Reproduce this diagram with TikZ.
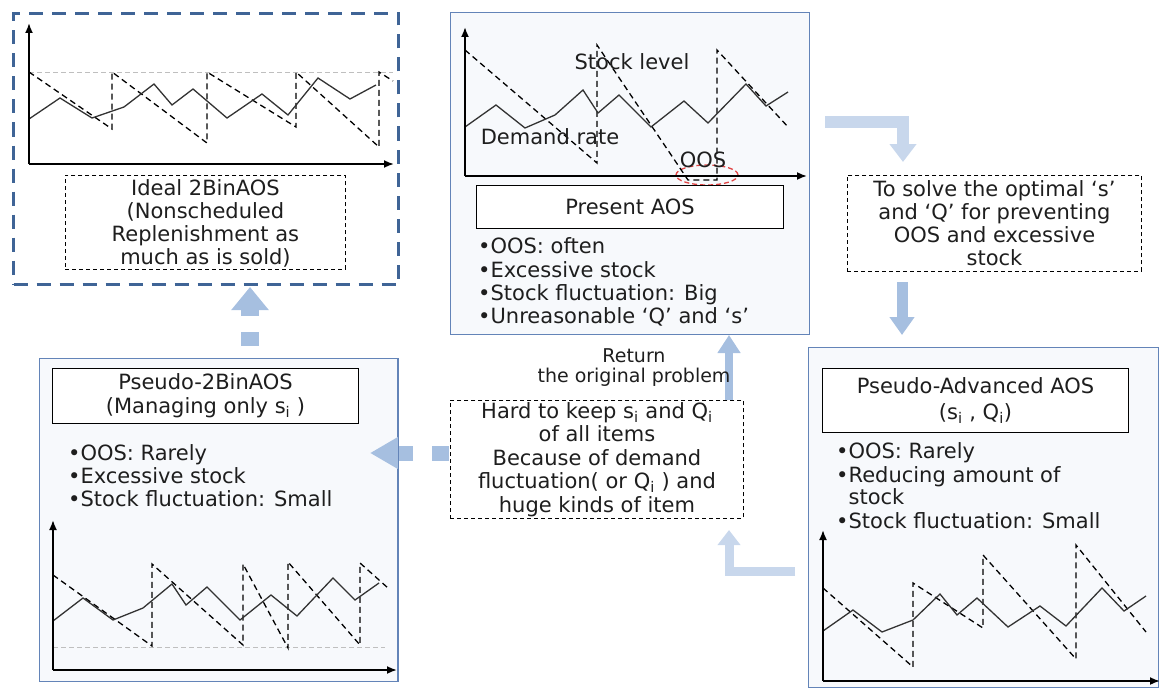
\documentclass[tikz,border=0pt]{standalone}
\usepackage{fontspec}
\setmainfont{DejaVu Sans}
\usetikzlibrary{arrows.meta,shapes.geometric}
\definecolor{pborder}{HTML}{6384B8}
\definecolor{pfill}{HTML}{F7F9FC}
\definecolor{idealb}{HTML}{3F6496}
\definecolor{arrlight}{HTML}{C8D7EC}
\definecolor{arrmid}{HTML}{A6BFE0}
\definecolor{txt}{HTML}{1E1E1E}
\definecolor{oosred}{HTML}{E04545}
\begin{document}
\begin{tikzpicture}[x=1pt,y=-1pt, line join=miter,
  font=\fontsize{21}{24}\selectfont,
  every node/.style={text=txt},
  panel/.style={draw=pborder, line width=1.3pt, fill=pfill, inner sep=0pt, anchor=north west},
  tbox/.style={draw=black, line width=0.9pt, dash pattern=on 4pt off 3pt, inner sep=0pt, anchor=north west, align=center},
  sbox/.style={draw=black, line width=1pt, fill=white, inner sep=0pt, anchor=north west, align=center},
  bul/.style={anchor=base west, inner sep=0pt},
  lbl/.style={inner sep=0pt},
  axis/.style={line width=1.8pt, -{Latex[length=10pt,width=8pt]}},
  stock/.style={line width=1.3pt, dash pattern=on 6pt off 4pt},
  demand/.style={line width=1.3pt, draw=black!80},
  refline/.style={line width=0.9pt, draw=black!25, dash pattern=on 5pt off 3pt},
  bigarrow/.style={line width=12pt, -{Triangle[length=18pt,width=26pt]}},
]
\useasboundingbox (0,0) rectangle (1161,690);

% ---------------- panels ----------------
\node[panel, draw=idealb, fill=white, line width=3pt, dash pattern=on 14pt off 9pt,
      minimum width=385pt, minimum height=271pt] (ideal) at (12,12) {};
\node[panel, minimum width=359pt, minimum height=322pt] (pres) at (450,12) {};
\node[panel, minimum width=350pt, minimum height=340pt] (padv) at (808,347) {};
\node[panel, minimum width=358pt, minimum height=323pt] (ptwo) at (39,358) {};

% ---------------- Ideal 2BinAOS chart ----------------
\coordinate (iO) at (29,164);
\coordinate (iY) at (29,23);
\coordinate (iX) at (394,164);
\draw[refline] (29,72) -- (393,72);
\draw[stock] (29,72) -- (112,129) -- (112,72) -- (207,143) -- (207,72) -- (296,127) -- (296,72) -- (379,147) -- (379,72) -- (393,81);
\draw[demand] (29,119) -- (60,98) -- (92,118) -- (124,107) -- (154,84) -- (172,105) -- (193,89) -- (227,118) -- (262,94) -- (288,115) -- (318,78) -- (350,99) -- (376,85);
\draw[axis] (iO) -- (iY);
\draw[axis] (iO) -- (iX);
\node[tbox, minimum width=280pt, minimum height=94pt, text depth=0pt] (idealtxt) at (65,175)
  {Ideal 2BinAOS\\[-1pt](Nonscheduled\\[-1pt]Replenishment as\\[-1pt]much as is sold)};

% ---------------- Present AOS chart ----------------
\coordinate (pO) at (465,176);
\coordinate (pY) at (465,27);
\coordinate (pX) at (807,176);
\draw[oosred, line width=1.3pt, dash pattern=on 5pt off 3pt] (707,175) ellipse [x radius=31pt, y radius=10pt];
\draw[stock] (465,50) -- (597,163) -- (597,45) -- (688,180) -- (717,180) -- (717,50) -- (789,128);
\draw[demand] (465,127) -- (496,105) -- (525,128) -- (555,115) -- (583,90) -- (598,113) -- (619,95) -- (651,127) -- (684,101) -- (708,123) -- (746,84) -- (766,106) -- (788,92);
\draw[axis] (pO) -- (pY);
\draw[axis] (pO) -- (pX);
\node[lbl] (stocklbl) at (632,62) {Stock level};
\node[lbl] (demandlbl) at (550,137) {Demand rate};
\node[lbl] (ooslbl) at (703,160) {OOS};
\node[sbox, minimum width=307pt, minimum height=43pt] (prestitle) at (476,185) {Present AOS};
\node[bul] (pb1) at (478,253) {•OOS: often};
\node[bul] (pb2) at (478,277) {•Excessive stock};
\node[bul] (pb3) at (478,300) {•Stock fluctuation: Big};
\node[bul] (pb4) at (478,323) {•Unreasonable ‘Q’ and ‘s’};

% ---------------- To solve box ----------------
\node[tbox, minimum width=294pt, minimum height=96pt] (solve) at (847,175)
  {To solve the optimal ‘s’\\[-1pt]and ‘Q’ for preventing\\[-1pt]OOS and excessive\\[-1pt]stock};

% ---------------- Pseudo-Advanced AOS ----------------
\node[sbox, minimum width=306pt, minimum height=64pt] (padvtitle) at (822,368)
  {Pseudo-Advanced AOS\\[2pt](s\textsubscript{i} , Q\textsubscript{i})};
\node[bul] (ab1) at (836,458) {•OOS: Rarely};
\node[bul] (ab2) at (836,482) {•Reducing amount of};
\node[bul] (ab3) at (836,504) {\phantom{•}stock};
\node[bul] (ab4) at (836,528) {•Stock fluctuation: Small};
\coordinate (aO) at (823,681);
\coordinate (aY) at (823,530);
\coordinate (aX) at (1160,681);
\draw[stock] (823,588) -- (913,667) -- (913,583) -- (983,628) -- (983,555) -- (1076,659) -- (1076,545) -- (1146,632);
\draw[demand] (823,631) -- (853,610) -- (882,632) -- (913,620) -- (940,594) -- (957,615) -- (977,598) -- (1008,627) -- (1040,606) -- (1066,626) -- (1102,588) -- (1124,611) -- (1146,596);
\draw[axis] (aO) -- (aY);
\draw[axis] (aO) -- (aX);

% ---------------- Hard to keep box ----------------
\node[tbox, minimum width=293pt, minimum height=118pt,
      font=\fontsize{21}{23.5}\selectfont] (hard) at (450,400)
  {Hard to keep s\textsubscript{i} and Q\textsubscript{i}\\of all items\\Because of demand\\fluctuation( or Q\textsubscript{i} ) and\\huge kinds of item};

% ---------------- Pseudo-2BinAOS ----------------
\node[sbox, minimum width=306pt, minimum height=55pt] (ptwotitle) at (52,368)
  {Pseudo-2BinAOS\\(Managing only s\textsubscript{i} )};
\node[bul] (tb1) at (68,460) {•OOS: Rarely};
\node[bul] (tb2) at (68,483) {•Excessive stock};
\node[bul] (tb3) at (68,506) {•Stock fluctuation: Small};
\coordinate (tO) at (53,670);
\coordinate (tY) at (53,520);
\coordinate (tX) at (397,670);
\draw[refline] (53,647) -- (385,647);
\draw[stock] (53,575) -- (152,646) -- (152,564) -- (243,645) -- (243,564) -- (288,648) -- (288,562) -- (360,645) -- (360,563) -- (388,588);
\draw[demand] (53,621) -- (83,598) -- (113,620) -- (143,608) -- (172,584) -- (186,605) -- (207,587) -- (240,620) -- (271,595) -- (297,616) -- (333,578) -- (355,600) -- (379,583);
\draw[axis] (tO) -- (tY);
\draw[axis] (tO) -- (tX);

% ---------------- flow arrows ----------------
\coordinate (a1s) at (825,122);
\coordinate (a1e) at (903,162);
\draw[bigarrow, arrlight] (a1s) -| (a1e);

\coordinate (a2s) at (902,282);
\coordinate (a2e) at (902,335);
\draw[arrmid, line width=11pt, -{Triangle[length=18pt,width=24pt]}] (a2s) -- (a2e);

\coordinate (a3s) at (795,571);
\coordinate (a3e) at (729,530);
\draw[arrlight, line width=9pt, -{Triangle[length=15pt,width=22pt]}] (a3s) -| (a3e);

\coordinate (a4s) at (729,400);
\coordinate (a4e) at (729,335);
\draw[arrmid, line width=8pt, -{Triangle[length=18pt,width=22pt]}] (a4s) -- (a4e);

\coordinate (a5s) at (449,453);
\coordinate (a5e) at (370,453);
\draw[arrmid, line width=15pt, dash pattern=on 17pt off 19pt, -{Triangle[length=28pt,width=30pt]}] (a5s) -- (a5e);
\draw[pborder, line width=1.3pt] (ptwo.north east) -- (ptwo.south east);

\coordinate (a6s) at (250,346);
\coordinate (a6e) at (250,287);
\draw[arrmid, line width=18pt, dash pattern=on 14pt off 16pt, -{Triangle[length=23pt,width=36pt]}] (a6s) -- (a6e);

\node[lbl, align=center, font=\fontsize{19}{20}\selectfont] (ret) at (634,368)
  {Return\\the original problem};
\end{tikzpicture}
\end{document}
